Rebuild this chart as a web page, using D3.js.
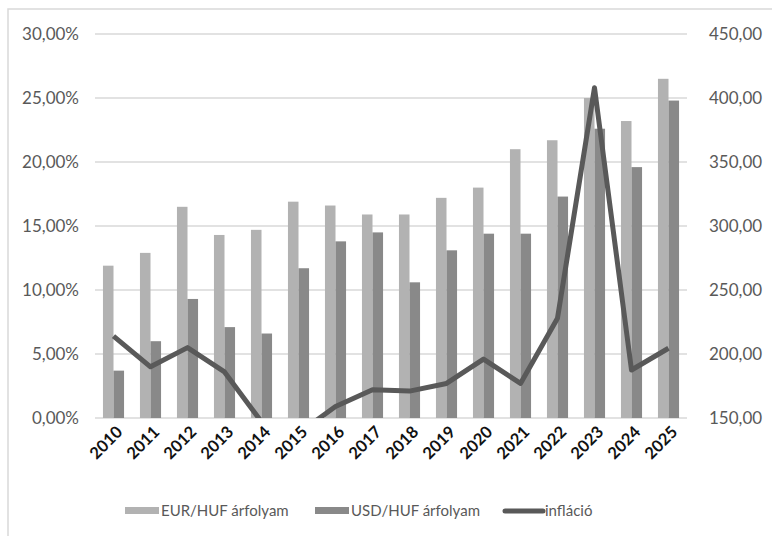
<!DOCTYPE html>
<html>
<head>
<meta charset="utf-8">
<script src="https://cdn.jsdelivr.net/npm/d3@7"></script>
<style>
  body { margin: 0; background: #fff; }
  text { font-family: Lato, "Liberation Sans", sans-serif; }
</style>
</head>
<body>
<svg id="chart" width="772" height="536"></svg>
<script>
// data
var years = ["2010","2011","2012","2013","2014","2015","2016","2017","2018","2019","2020","2021","2022","2023","2024","2025"];
var eurHuf = [269, 279, 315, 293, 297, 319, 316, 309, 309, 322, 330, 360, 367, 400, 382, 415];
var usdHuf = [187, 210, 243, 221, 216, 267, 288, 295, 256, 281, 294, 294, 323, 376, 346, 398];
var inflacio = [6.4, 4.0, 5.5, 3.6, -0.3, -1.2, 0.9, 2.2, 2.1, 2.7, 4.6, 2.7, 7.8, 25.8, 3.75, 5.45];
var leftTicks = [0, 5, 10, 15, 20, 25, 30];
var rightTicks = [150, 200, 250, 300, 350, 400, 450];
var seriesNames = ["EUR/HUF árfolyam", "USD/HUF árfolyam", "infláció"];

var eurColor = "#b2b2b2", usdColor = "#898989", lineColor = "#595959";

var svg = d3.select("#chart");
var loc = d3.formatLocale({decimal: ",", thousands: " ", grouping: [3], currency: ["", ""]});
var fmtLeft = function (d) { return loc.format(".2f")(d) + "%"; };
var fmtRight = loc.format(".2f");

var plotL = 95, plotR = 687, plotT = 34, plotB = 418;

// outer chart border
svg.append("rect").attr("x", 8).attr("y", 9).attr("width", 800).attr("height", 600)
    .attr("fill", "none").attr("stroke", "#d9d9d9").attr("stroke-width", 1.5);

var x0 = d3.scaleBand().domain(years).range([plotL, plotR]).paddingInner(0.43).paddingOuter(0.215);
var x1 = d3.scaleBand().domain(["eur","usd"]).range([0, x0.bandwidth()]);
var yL = d3.scaleLinear().domain([0, 30]).range([plotB, plotT]);
var yR = d3.scaleLinear().domain([150, 450]).range([plotB, plotT]);

// gridlines
svg.append("g").selectAll("line").data(leftTicks).enter().append("line")
    .attr("x1", plotL).attr("x2", plotR)
    .attr("y1", function (d) { return yL(d); }).attr("y2", function (d) { return yL(d); })
    .attr("stroke", "#d9d9d9").attr("stroke-width", 1.3);

// axes
var axL = svg.append("g").attr("transform", "translate(79,0)")
    .call(d3.axisLeft(yL).tickValues(leftTicks).tickSize(0).tickPadding(0).tickFormat(fmtLeft));
var axR = svg.append("g").attr("transform", "translate(709,0)")
    .call(d3.axisRight(yR).tickValues(rightTicks).tickSize(0).tickPadding(0).tickFormat(fmtRight));
[axL, axR].forEach(function (ax) {
    ax.select(".domain").remove();
    ax.selectAll("text").attr("font-size", 17).attr("fill", "#595959")
        .style("font-family", "Lato, 'Liberation Sans', sans-serif");
});

// bars
var groups = svg.append("g").selectAll("g").data(years).enter().append("g")
    .attr("transform", function (d) { return "translate(" + x0(d) + ",0)"; });
groups.append("rect")
    .attr("x", x1("eur")).attr("width", x1.bandwidth())
    .attr("y", function (d, i) { return yR(eurHuf[i]); })
    .attr("height", function (d, i) { return plotB - yR(eurHuf[i]); })
    .attr("fill", eurColor);
groups.append("rect")
    .attr("x", x1("usd")).attr("width", x1.bandwidth())
    .attr("y", function (d, i) { return yR(usdHuf[i]); })
    .attr("height", function (d, i) { return plotB - yR(usdHuf[i]); })
    .attr("fill", usdColor);

// inflation line, clipped to the plot area like the original
svg.append("clipPath").attr("id", "plotclip").append("rect")
    .attr("x", 0).attr("y", plotT - 10).attr("width", 772).attr("height", plotB - plotT + 10);
var line = d3.line()
    .x(function (d, i) { return x0(years[i]) + x0.bandwidth() / 2; })
    .y(function (d) { return yL(d); });
svg.append("path").datum(inflacio)
    .attr("clip-path", "url(#plotclip)")
    .attr("d", line).attr("fill", "none")
    .attr("stroke", lineColor).attr("stroke-width", 5).attr("stroke-linejoin", "round");

// year labels
svg.append("g").selectAll("text").data(years).enter().append("text")
    .attr("transform", function (d) {
        return "translate(" + (x0(d) + x0.bandwidth() / 2 + 6) + "," + 429 + ") rotate(-45)";
    })
    .attr("text-anchor", "end").attr("dy", "0.35em")
    .attr("font-size", 16.5).attr("font-weight", "bold").attr("fill", "#111")
    .text(function (d) { return d; });

// legend
var legend = svg.append("g").attr("transform", "translate(0,511)");
var legItems = [
    {name: seriesNames[0], x: 125, color: eurColor, type: "bar"},
    {name: seriesNames[1], x: 315, color: usdColor, type: "bar"},
    {name: seriesNames[2], x: 505, color: lineColor, type: "line"}
];
legItems.forEach(function (it) {
    if (it.type === "bar") {
        legend.append("rect").attr("x", it.x).attr("y", -4).attr("width", 34).attr("height", 7).attr("fill", it.color);
        legend.append("text").attr("x", it.x + 36).attr("y", 0).attr("dy", "0.35em")
            .attr("font-size", 15).attr("fill", "#595959").text(it.name);
    } else {
        legend.append("line").attr("x1", it.x).attr("x2", it.x + 38).attr("y1", 0).attr("y2", 0)
            .attr("stroke", it.color).attr("stroke-width", 5).attr("stroke-linecap", "round");
        legend.append("text").attr("x", it.x + 40).attr("y", 0).attr("dy", "0.35em")
            .attr("font-size", 15).attr("fill", "#595959").text(it.name);
    }
});
</script>
</body>
</html>
